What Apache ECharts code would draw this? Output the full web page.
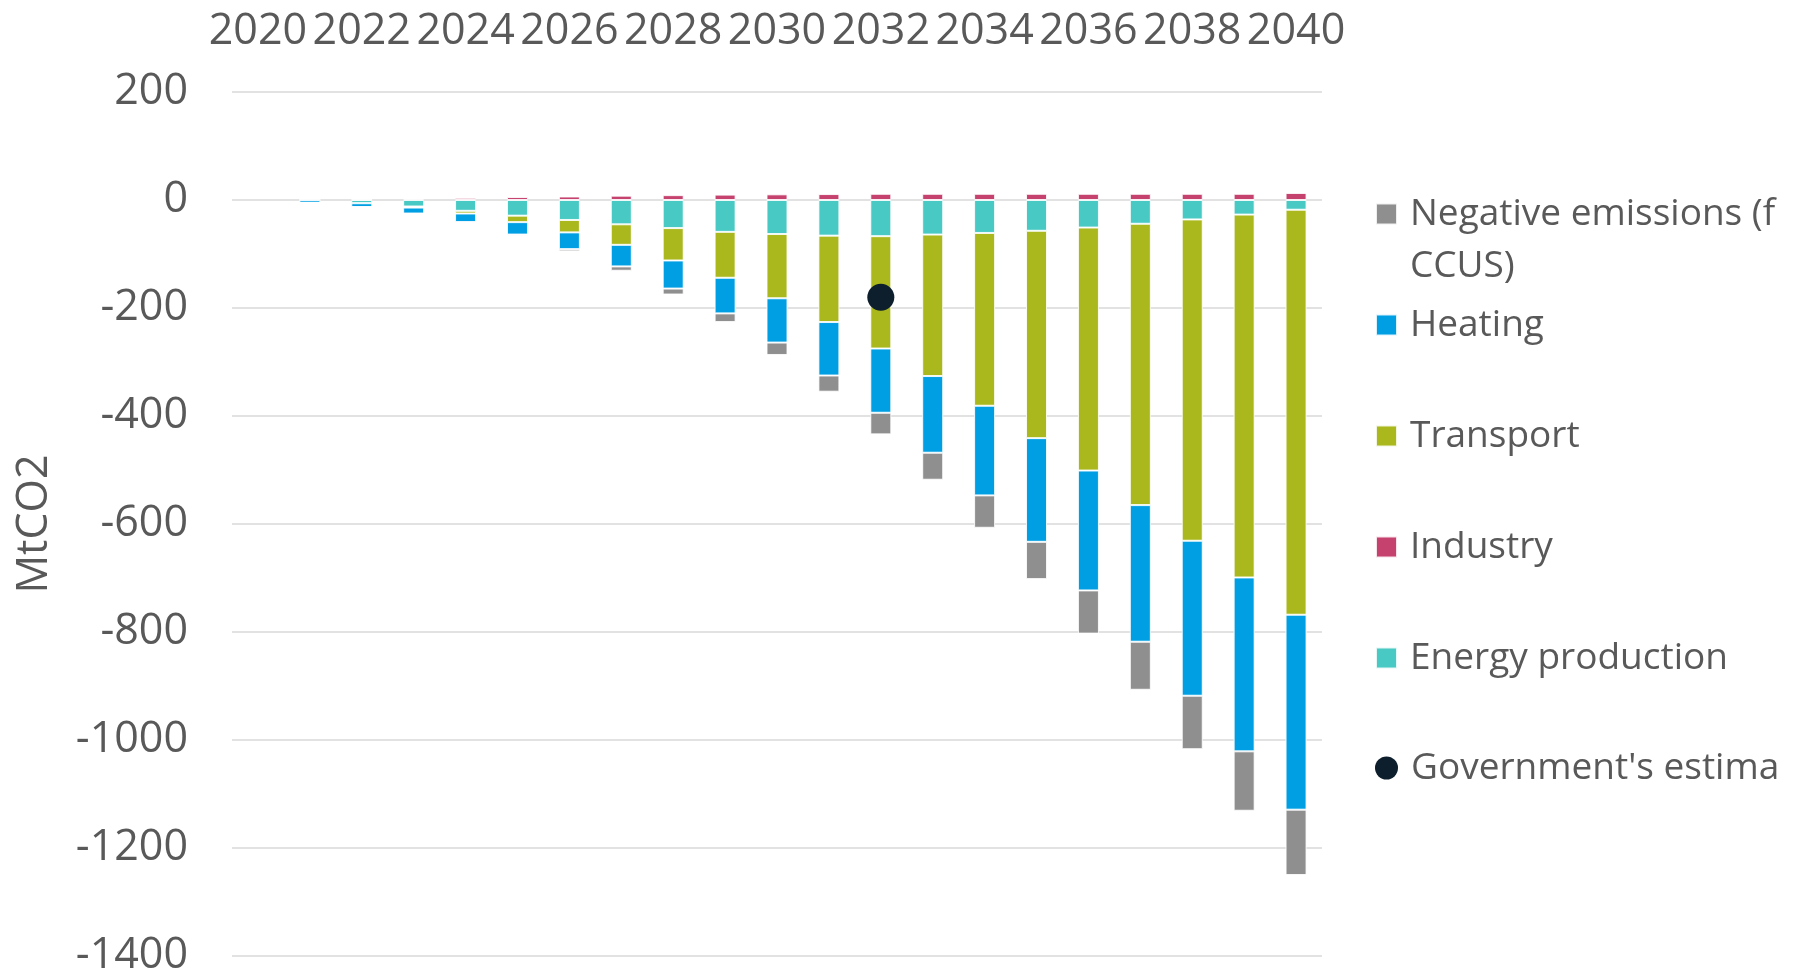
<!DOCTYPE html>
<html>
<head>
<meta charset="utf-8">
<script src="https://cdn.jsdelivr.net/npm/echarts@6/dist/echarts.min.js"></script>
<style>
  html, body { margin: 0; padding: 0; background: #ffffff; }
  #chart { width: 1801px; height: 977px; }
</style>
</head>
<body>
<div id="chart"></div>
<script>
const years = ['2020','2021','2022','2023','2024','2025','2026','2027','2028','2029','2030',
               '2031','2032','2033','2034','2035','2036','2037','2038','2039','2040'];
const energyProduction = [null, 0, -6, -12, -20, -29, -37, -45, -52, -59, -63,
                          -66, -67, -64, -61, -57, -51, -44, -36, -27, -18];
const transport = [null, 0, 0, -2, -5, -12, -23, -38, -60, -85, -119,
                   -160, -208, -262, -320, -384, -450, -521, -595, -672, -750];
const heating = [null, -5, -7, -11, -16, -23, -31, -40, -52, -66, -82,
                 -99, -119, -142, -166, -192, -222, -253, -287, -322, -361];
const negativeEmissions = [null, 0, 0, 0, 0, -2, -4, -8, -11, -16, -23,
                           -30, -40, -50, -60, -69, -80, -89, -99, -110, -121];
const industry = [null, 0, 1, 2.5, 4, 5.5, 6.5, 8, 9, 10, 10.5,
                  11, 11.5, 11.5, 11.5, 11.5, 11.5, 11.5, 11.5, 11.5, 13];
const govEstimate = [['2032', -180]];
const yTicks = { min: -1400, max: 200, interval: 200 };

const names = {
  neg: 'Negative emissions (from\nCCUS)',
  heat: 'Heating',
  trans: 'Transport',
  ind: 'Industry',
  energy: 'Energy production',
  gov: "Government's estimate"
};
const colors = {
  neg: '#8f8f8f', heat: '#009fe3', trans: '#aab81d',
  ind: '#c6426e', energy: '#48c9c3', gov: '#0d1f2d'
};
const textColor = '#595959';
const fontFamily = '"Open Sans", "Noto Sans", sans-serif';

const chart = echarts.init(document.getElementById('chart'));

function barSeries(key, data) {
  return {
    name: names[key], type: 'bar', stack: 'total', data: data,
    barWidth: 21,
    itemStyle: { color: colors[key], borderColor: 'rgba(255,255,255,0.85)', borderWidth: 1 },
    emphasis: { disabled: true }
  };
}

const legendCenters = { neg: 212, heat: 323, trans: 434, ind: 545, energy: 656, gov: 766 };
const lh = 52;
const legends = Object.keys(legendCenters).map(function (k) {
  const isGov = k === 'gov';
  const isNeg = k === 'neg';
  return {
    orient: 'vertical',
    left: 1375,
    top: (isNeg ? legendCenters[k] - 1.5 * lh : legendCenters[k] - lh / 2) + 2,
    padding: 0,
    itemWidth: isGov ? 23 : 21,
    itemHeight: isGov ? 23 : 21,
    itemGap: 0,
    data: [{ name: names[k], icon: isGov ? 'circle' : 'rect' }],
    formatter: function (name) { return name === names.neg ? '\n' + name : name; },
    textStyle: {
      color: textColor, fontSize: 37, fontFamily: fontFamily, lineHeight: lh,
      padding: [0, 0, 0, 8], width: 375, overflow: 'truncate', ellipsis: ''
    }
  };
});

chart.setOption({
  backgroundColor: '#ffffff',
  animation: false,
  textStyle: { fontFamily: fontFamily },
  legend: legends,
  grid: { left: 232, right: 479, top: 92, bottom: 21, containLabel: false, outerBoundsMode: 'none' },
  xAxis: {
    type: 'category', data: years, position: 'top',
    axisLine: { show: false }, axisTick: { show: false },
    axisLabel: { interval: 1, color: textColor, fontSize: 43, fontFamily: fontFamily, margin: 39 }
  },
  yAxis: {
    type: 'value', min: yTicks.min, max: yTicks.max, interval: yTicks.interval,
    name: 'MtCO2', nameLocation: 'middle', nameGap: 176, nameRotate: 90, nameMoveOverlap: false,
    nameTextStyle: { color: textColor, fontSize: 43, fontFamily: fontFamily },
    axisLine: { show: false }, axisTick: { show: false },
    axisLabel: {
      color: textColor, fontSize: 43, fontFamily: fontFamily, margin: 44,
      formatter: function (v) { return String(v); }
    },
    splitLine: { lineStyle: { color: '#d9d9d9', width: 1.5 } }
  },
  series: [
    barSeries('energy', energyProduction),
    barSeries('trans', transport),
    barSeries('heat', heating),
    barSeries('neg', negativeEmissions),
    barSeries('ind', industry),
    {
      name: names.gov, type: 'scatter', data: govEstimate,
      symbolSize: 27, itemStyle: { color: colors.gov, opacity: 1 }, z: 5,
      emphasis: { disabled: true }
    }
  ]
});
</script>
</body>
</html>
